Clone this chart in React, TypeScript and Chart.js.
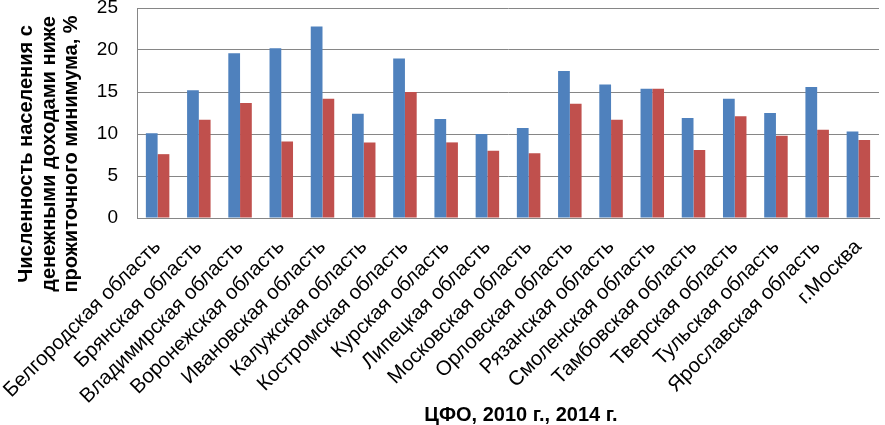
import React, { useEffect, useRef } from "react";
import { Chart, registerables } from "chart.js";

Chart.register(...registerables);

const categories = [
  "Белгородская область",
  "Брянская область",
  "Владимирская область",
  "Воронежская область",
  "Ивановская область",
  "Калужская область",
  "Костромская область",
  "Курская область",
  "Липецкая область",
  "Московская область",
  "Орловская область",
  "Рязанская область",
  "Смоленская область",
  "Тамбовская область",
  "Тверская область",
  "Тульская область",
  "Ярославская область",
  "г.Москва",
];

const values2010 = [10.1, 15.2, 19.6, 20.2, 22.8, 12.4, 19.0, 11.8, 10.0, 10.7, 17.5, 15.9, 15.4, 11.9, 14.2, 12.5, 15.6, 10.3];
const values2014 = [7.6, 11.7, 13.7, 9.1, 14.2, 9.0, 15.0, 9.0, 8.0, 7.7, 13.6, 11.7, 15.4, 8.1, 12.1, 9.8, 10.5, 9.3];

const yMin = 0;
const yMax = 25;
const yStep = 5;

const yTitleLines = ["Численность населения с", "денежными доходами ниже", "прожиточного минимума, %"];
const xTitle = "ЦФО, 2010 г., 2014 г.";

const FONT = "'Liberation Sans', Arial, sans-serif";

export default function App() {
  const ref = useRef<HTMLCanvasElement | null>(null);

  useEffect(() => {
    if (!ref.current) return;
    const titlePlugin = {
      id: "titles",
      afterDraw(chart: any) {
        const ctx = chart.ctx;
        ctx.save();
        ctx.fillStyle = "#000";
        ctx.font = `bold 20px ${FONT}`;
        ctx.textAlign = "center";
        ctx.textBaseline = "alphabetic";
        const xs = [32, 54.5, 77];
        yTitleLines.forEach((line, i) => {
          ctx.save();
          ctx.translate(xs[i], 154);
          ctx.rotate(-Math.PI / 2);
          ctx.fillText(line, 0, 0);
          ctx.restore();
        });
        ctx.fillText(xTitle, 521, 421);
        ctx.restore();
      },
    };
    const chart = new Chart(ref.current, {
      type: "bar",
      data: {
        labels: categories,
        datasets: [
          {
            label: "2010 г.",
            data: values2010,
            backgroundColor: "#4F81BD",
            categoryPercentage: 0.57,
            barPercentage: 1.0,
          },
          {
            label: "2014 г.",
            data: values2014,
            backgroundColor: "#C0504D",
            categoryPercentage: 0.57,
            barPercentage: 1.0,
          },
        ],
      },
      options: {
        responsive: false,
        animation: false,
        devicePixelRatio: 1,
        layout: { padding: { left: 0, right: 6, top: 0, bottom: 0 } },
        plugins: {
          legend: { display: false },
          tooltip: { enabled: false },
          title: { display: false },
        },
        scales: {
          x: {
            grid: { display: false, drawTicks: false },
            border: { display: true, color: "#868686", width: 1 },
            ticks: {
              autoSkip: false,
              minRotation: 45,
              maxRotation: 45,
              color: "#000",
              padding: 17,
              font: { family: FONT, size: 20.5 },
            },
            afterFit: (scale: any) => {
              scale.height = 425 - 218;
              scale.paddingLeft = 0;
              scale.paddingRight = 0;
            },
          },
          y: {
            min: yMin,
            max: yMax,
            grid: { color: "#868686", drawTicks: false, lineWidth: 1 },
            border: { display: true, color: "#868686", width: 1 },
            ticks: {
              stepSize: yStep,
              color: "#000",
              padding: 19,
              font: { family: FONT, size: 19 },
            },
            afterFit: (scale: any) => {
              scale.width = 137;
              scale.paddingTop = 8;
              scale.paddingBottom = 0;
            },
          },
        },
      },
      plugins: [titlePlugin],
    });
    return () => chart.destroy();
  }, []);

  return (
    <div style={{ position: "fixed", left: 0, top: 0, width: 885, height: 425, background: "#fff" }}>
      <canvas ref={ref} width={885} height={425} />
    </div>
  );
}
